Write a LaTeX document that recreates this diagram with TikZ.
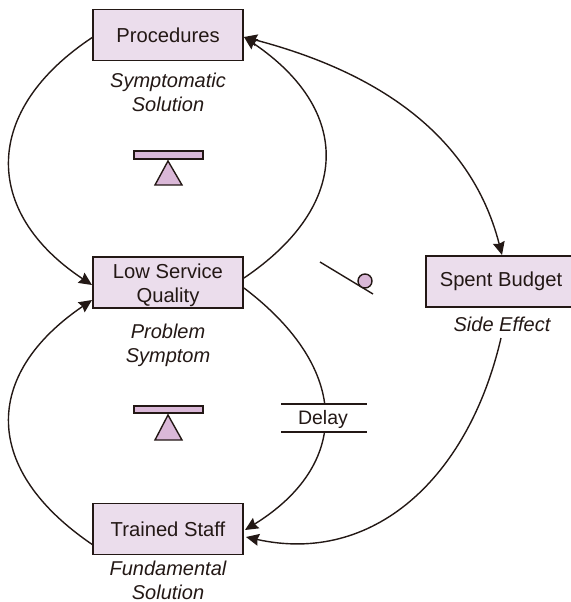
\documentclass[tikz,border=0pt]{standalone}
\usepackage{fontspec}
\setmainfont{Liberation Sans}
\usetikzlibrary{arrows.meta}
\definecolor{boxfill}{HTML}{EBDDEC}
\definecolor{symfill}{HTML}{DAB8D8}
\definecolor{ink}{HTML}{231815}
\tikzset{
 var/.style={draw=ink,line width=1.4pt,fill=boxfill,minimum width=150pt,minimum height=51pt,inner sep=0pt,align=center,text=ink,font=\fontsize{20.2}{24}\selectfont},
 captext/.style={align=center,text=ink,inner sep=0pt,font=\fontsize{20}{24}\selectfont\itshape},
 link/.style={draw=ink,line width=1.4pt,-{Stealth[length=13pt,width=12pt,inset=1.5pt]}},
 link2/.style={draw=ink,line width=1.4pt,{Stealth[length=13pt,width=12pt,inset=1.5pt]}-{Stealth[length=13pt,width=12pt,inset=1.5pt]}},
 symb/.style={draw=ink,line width=1.4pt,fill=symfill},
 hline/.style={draw=ink,line width=1.4pt}
}
\begin{document}
\begin{tikzpicture}[x=1pt,y=-1pt]
\useasboundingbox (0,0) rectangle (570,602);
\node[var] (proc) at (168,35) {Procedures};
\node[var] (low) at (168,282.5) {\rule{0pt}{20pt}Low Service\\Quality};
\node[var] (staff) at (168,529) {Trained Staff};
\node[var] (spent) at (501,281.5) {Spent Budget};
\node[captext] (c1) at (168,92) {Symptomatic\\Solution};
\node[captext] (c2) at (168,345.5) {Problem\\Symptom};
\node[captext] (c3) at (168,580.5) {Fundamental\\Solution};
\node[captext] (c4) at (502,324) {Side Effect};
\coordinate (a1) at (93,37);
\coordinate (a2) at (92,285);
\coordinate (b1) at (244,278);
\coordinate (b2) at (244,37);
\coordinate (d1) at (244,288);
\coordinate (d2) at (245,530);
\coordinate (e1) at (93,545);
\coordinate (e2) at (92,300);
\coordinate (f1) at (501,338);
\coordinate (f2) at (246,537);
\coordinate (g1) at (502,255);
\path[link] (a1) .. controls (-18,110) and (-18,212) .. (a2);
\path[link] (b1) .. controls (352,205) and (352,110) .. (b2);
\path[link] (e1) .. controls (-18,470) and (-18,375) .. (e2);
\path[link] (d1) .. controls (352,370) and (350,465) .. (d2);
\path[link] (f1) .. controls (468,480) and (372,565) .. (f2);
\path[link2] (b2) .. controls (370,70) and (470,130) .. (g1);
\fill[white] (281,404) rectangle (367,432);
\node[text=ink,inner sep=0pt,font=\fontsize{19.5}{24}\selectfont] (delay) at (323,419) {Delay};
\draw[hline] (281,404) -- (367,404);
\draw[hline] (281,432) -- (367,432);
\draw[symb] (134,151) rectangle (203,159);
\draw[symb] (168,161) -- (182,185) -- (155,185) -- cycle;
\draw[symb] (134,406) rectangle (203,413);
\draw[symb] (168,415) -- (182,440) -- (155,440) -- cycle;
\draw[hline] (320,262) -- (373,294);
\draw[symb] (365,281) circle (7pt);
\end{tikzpicture}
\end{document}
